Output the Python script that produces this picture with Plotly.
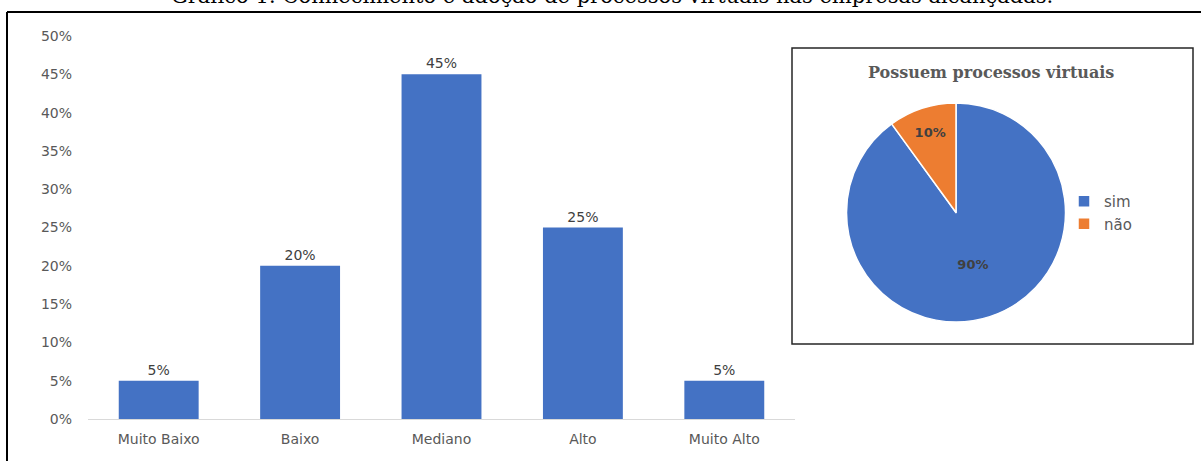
import plotly.graph_objects as go

W, H = 1201, 461

categories = ["Muito Baixo", "Baixo", "Mediano", "Alto", "Muito Alto"]
bar_values = [0.05, 0.20, 0.45, 0.25, 0.05]
bar_labels = ["5%", "20%", "45%", "25%", "5%"]
y_ticks = [0, 0.05, 0.10, 0.15, 0.20, 0.25, 0.30, 0.35, 0.40, 0.45, 0.50]
y_tick_labels = ["0%", "5%", "10%", "15%", "20%", "25%", "30%", "35%", "40%", "45%", "50%"]

pie_labels = ["sim", "não"]
pie_values = [90, 10]
pie_colors = ["#4472C4", "#ED7D31"]

main_title = "Gráfico 1: Conhecimento e adoção de processos virtuais nas empresas alcançadas."
pie_title = "Possuem processos virtuais"

SANS = "DejaVu Sans"

def px_x(x):
    return x / W

def px_y(y):
    return 1 - y / H

fig = go.Figure()

fig.add_trace(go.Bar(
    x=categories, y=bar_values, marker=dict(color="#4472C4", line=dict(width=0)),
    width=0.565, text=bar_labels, textposition="outside", cliponaxis=False,
    textfont=dict(family=SANS, size=14, color="#404040"),
    showlegend=False, hoverinfo="skip",
))

fig.add_trace(go.Pie(
    labels=pie_labels, values=pie_values, sort=False, direction="clockwise", rotation=0,
    marker=dict(colors=pie_colors, line=dict(color="white", width=1.5)),
    texttemplate="<b>%{percent:.0%}</b>", textposition="inside", insidetextorientation="horizontal",
    textfont=dict(family=SANS, size=13, color="#404040"),
    domain=dict(x=[px_x(956 - 118), px_x(956 + 118)], y=[px_y(322), px_y(103)]),
    showlegend=True, hoverinfo="skip",
))

fig.update_layout(
    width=W, height=H, margin=dict(l=0, r=0, t=0, b=0, autoexpand=False),
    paper_bgcolor="white", plot_bgcolor="white",
    xaxis=dict(domain=[px_x(88), px_x(795)], showgrid=False, showline=True, linecolor="#D9D9D9",
               linewidth=1, ticks="", ticklabelstandoff=7, automargin=False,
               tickfont=dict(family=SANS, size=14, color="#595959"), fixedrange=True),
    yaxis=dict(domain=[px_y(419), px_y(36)], range=[0, 0.5], tickvals=y_ticks, ticktext=y_tick_labels,
               showgrid=False, zeroline=False, showline=False, ticks="", ticklabelstandoff=15,
               automargin=False,
               tickfont=dict(family=SANS, size=14, color="#595959"), fixedrange=True),
    legend=dict(x=px_x(1064), y=px_y(185), xanchor="left", yanchor="top",
                font=dict(family=SANS, size=15, color="#595959"),
                itemwidth=30, bgcolor="rgba(0,0,0,0)"),
    showlegend=True,
)

shapes = [
    dict(type="line", xref="paper", yref="paper", x0=px_x(7), x1=px_x(1205), y0=px_y(12), y1=px_y(12),
         line=dict(color="black", width=2)),
    dict(type="line", xref="paper", yref="paper", x0=px_x(7), x1=px_x(7), y0=px_y(12), y1=px_y(470),
         line=dict(color="black", width=2)),
    dict(type="rect", xref="paper", yref="paper", x0=px_x(792), x1=px_x(1193), y0=px_y(344), y1=px_y(48),
         line=dict(color="#262626", width=1.5)),
]
fig.update_layout(shapes=shapes)

fig.add_annotation(text=main_title, xref="paper", yref="paper", x=px_x(612), y=px_y(10),
                   xanchor="center", yanchor="bottom", showarrow=False,
                   font=dict(family="DejaVu Serif", size=21, color="black"))
fig.add_annotation(text="<b>" + pie_title + "</b>", xref="paper", yref="paper", x=px_x(991), y=px_y(72),
                   xanchor="center", yanchor="middle", showarrow=False,
                   font=dict(family="DejaVu Serif", size=16, color="#595959"))

fig.write_html("out.html")
